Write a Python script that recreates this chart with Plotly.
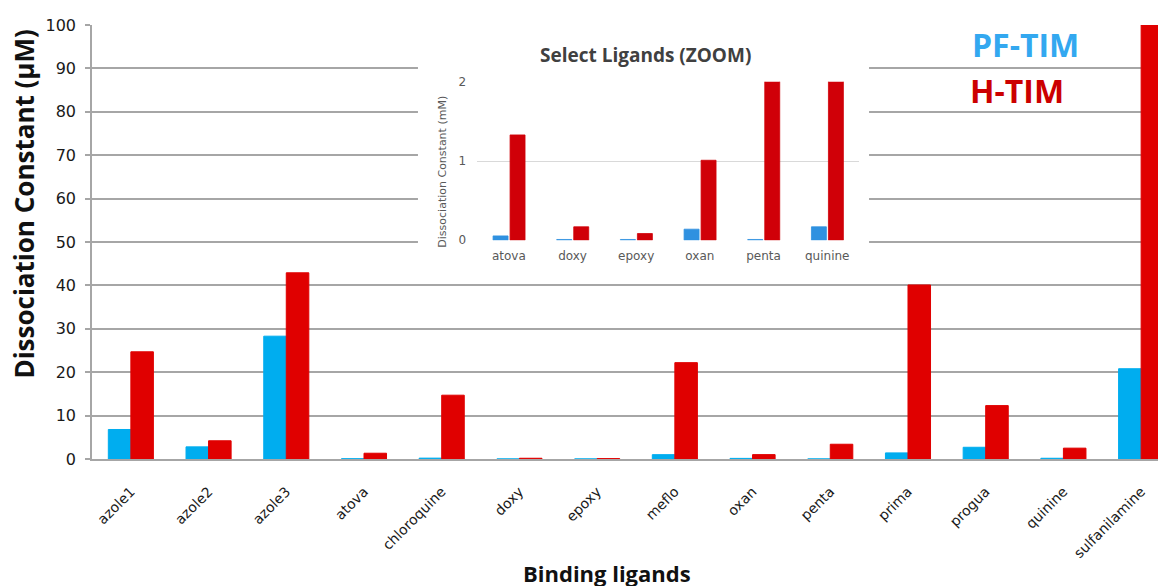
import plotly.graph_objects as go

# ---------------- data ----------------
ligands = ["azole1", "azole2", "azole3", "atova", "chloroquine", "doxy", "epoxy",
           "meflo", "oxan", "penta", "prima", "progua", "quinine", "sulfanilamine"]
pf_tim = [6.8, 2.8, 28.3, 0.055, 0.2, 0.01, 0.01, 1.0, 0.14, 0.01, 1.4, 2.7, 0.17, 20.8]
h_tim = [24.7, 4.2, 42.9, 1.33, 14.7, 0.17, 0.085, 22.2, 1.01, 3.4, 40.1, 12.3, 2.5, 100]

zoom_ligands = ["atova", "doxy", "epoxy", "oxan", "penta", "quinine"]
zoom_pf = [pf_tim[ligands.index(n)] for n in zoom_ligands]
zoom_h = [h_tim[ligands.index(n)] for n in zoom_ligands]

main_ticks = [0, 10, 20, 30, 40, 50, 60, 70, 80, 90, 100]
zoom_ticks = [0, 1, 2]

# ---------------- colours / styles ----------------
BLUE = "#00adef"
RED = "#e00000"
ZBLUE = "#2f91e0"
ZRED = "#d00008"
GRID = "#a6a6a6"

fig = go.Figure()

# main chart
fig.add_trace(go.Bar(x=ligands, y=pf_tim, name="PF-TIM", width=0.29, offset=-0.29,
                     marker=dict(color=BLUE, line=dict(color=BLUE, width=1)),
                     xaxis="x", yaxis="y", showlegend=False))
fig.add_trace(go.Bar(x=ligands, y=h_tim, name="H-TIM", width=0.29, offset=0.0,
                     marker=dict(color=RED, line=dict(color=RED, width=1)),
                     xaxis="x", yaxis="y", showlegend=False))

# white backing box for the inset (empty subplot)
fig.add_trace(go.Scatter(x=[0], y=[0], mode="markers", marker=dict(opacity=0),
                         xaxis="x2", yaxis="y2", showlegend=False, hoverinfo="skip"))

# inset zoom chart
fig.add_trace(go.Bar(x=zoom_ligands, y=zoom_pf, name="PF-TIM", width=0.235, offset=-0.248,
                     marker=dict(color=ZBLUE, line=dict(color=ZBLUE, width=0.8)),
                     xaxis="x3", yaxis="y3", showlegend=False))
fig.add_trace(go.Bar(x=zoom_ligands, y=zoom_h, name="H-TIM", width=0.235, offset=0.019,
                     marker=dict(color=ZRED, line=dict(color=ZRED, width=0.8)),
                     xaxis="x3", yaxis="y3", showlegend=False))

fig.update_layout(
    width=1166, height=586,
    margin=dict(l=84, r=8, t=10, b=135),
    paper_bgcolor="white", plot_bgcolor="white",
    barmode="overlay",
    font=dict(family="DejaVu Sans", color="#1a1a1a"),
    xaxis=dict(domain=[0, 1], range=[-0.5, 13.32], type="category",
               showline=True, linecolor=GRID, linewidth=2, showgrid=False,
               ticks="", tickangle=-45, tickfont=dict(size=14, color="#1a1a1a"),
               ticklabelstandoff=17),
    yaxis=dict(domain=[0, 1], range=[0, 100], tickvals=main_ticks,
               showgrid=True, gridcolor=GRID, gridwidth=1.5,
               showline=True, linecolor=GRID, linewidth=1.5,
               ticks="outside", ticklen=5, tickcolor=GRID, tickwidth=1.5,
               tickfont=dict(size=16, color="#1a1a1a"), ticklabelstandoff=6,
               zeroline=False),
    xaxis2=dict(domain=[0.3035, 0.7235], visible=False, range=[0, 1]),
    yaxis2=dict(domain=[0.4195, 0.986], visible=False, range=[0, 1]),
    xaxis3=dict(domain=[0.3585, 0.7142], anchor="y3", type="category", range=[-0.5, 5.5],
                showgrid=False, showline=False, ticks="", zeroline=False,
                tickfont=dict(size=12, color="#595959"), ticklabelstandoff=7),
    yaxis3=dict(domain=[0.504, 0.869], anchor="x3", range=[0, 2], tickvals=zoom_ticks,
                showgrid=True, gridcolor="#d9d9d9", gridwidth=1.2, zeroline=False,
                showline=False, ticks="", tickfont=dict(size=12, color="#595959"),
                ticklabelstandoff=10),
)

# axis titles and legend text
fig.add_annotation(text="Dissociation Constant (µM)", xref="paper", yref="paper",
                   x=-0.063, y=0.587, textangle=-90, showarrow=False,
                   xanchor="center", yanchor="middle",
                   font=dict(family="Open Sans", size=26, color="#111111", weight="bold"))
fig.add_annotation(text="Binding ligands", xref="paper", yref="paper",
                   x=0.4795, y=-0.263, showarrow=False, xanchor="center", yanchor="middle",
                   font=dict(family="Open Sans", size=22, color="#111111", weight="bold"))
fig.add_annotation(text="PF-TIM", xref="paper", yref="paper", x=0.8175, y=0.955,
                   xanchor="left", yanchor="middle", showarrow=False,
                   font=dict(family="Open Sans", size=32, color="#33a8f0", weight="bold"))
fig.add_annotation(text="H-TIM", xref="paper", yref="paper", x=0.8156, y=0.848,
                   xanchor="left", yanchor="middle", showarrow=False,
                   font=dict(family="Open Sans", size=32, color="#cc0000", weight="bold"))
fig.add_annotation(text="Select Ligands (ZOOM)", xref="paper", yref="paper",
                   x=0.515, y=0.932, showarrow=False, xanchor="center", yanchor="middle",
                   font=dict(family="Open Sans", size=19, color="#404040", weight="bold"))
fig.add_annotation(text="Dissociation Constant (mM)", xref="paper", yref="paper",
                   x=0.3268, y=0.662, textangle=-90, showarrow=False,
                   xanchor="center", yanchor="middle",
                   font=dict(family="DejaVu Sans", size=11, color="#595959"))

fig.write_html("out.html")
